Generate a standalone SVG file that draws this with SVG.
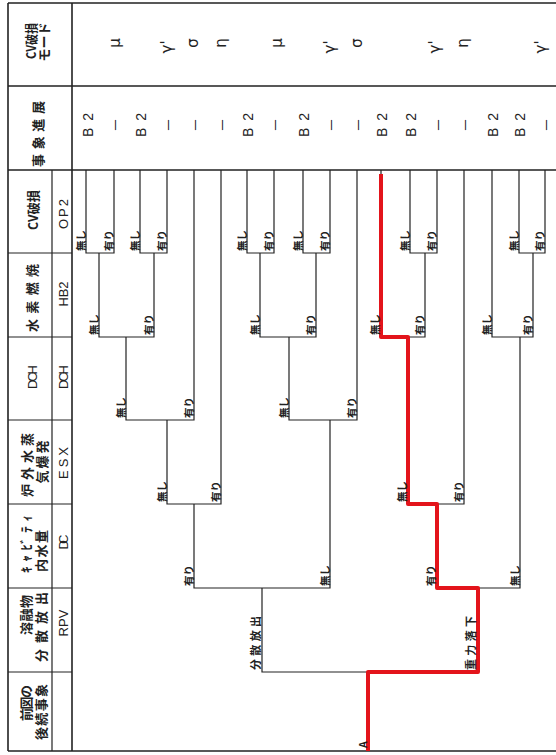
<svg xmlns="http://www.w3.org/2000/svg" width="556" height="755" viewBox="0 0 556 755">
<style>
.bd{stroke:#222;stroke-width:1.6;fill:none}
.ln{stroke:#222;stroke-width:1.2;fill:none}
.red{stroke:#e3141b;stroke-width:4;fill:none;stroke-linejoin:round}
.t{font-family:"Noto Sans CJK JP","Liberation Sans",sans-serif;fill:#222;text-anchor:middle;dominant-baseline:central}
.hd{font-size:13px;font-weight:bold}
.cd{font-family:"Liberation Sans","Noto Sans CJK JP",sans-serif;font-size:13px}
.oc{font-size:14px;font-family:"Liberation Sans","Noto Sans CJK JP",sans-serif}
.md{font-size:15px;font-family:"DejaVu Sans","Noto Sans CJK JP",sans-serif}
.br{font-family:"Noto Sans CJK JP","Liberation Sans",sans-serif;fill:#222;font-size:10.5px;font-weight:bold;text-anchor:start;dominant-baseline:central}
</style>
<rect width="556" height="755" fill="#fff"/>
<g id="table">
<path class="bd" d="M8,3H556M8,751H556M8,3V751M72,3V751M8,86H556M8,170H556"/>
<path class="ln" d="M52,170V751M8,253H72M8,337H72M8,420H72M8,504H72M8,588H72M8,672H72"/>
</g>
<g id="header">
<g id="h-mode"><text class="t hd" transform="translate(30,41) rotate(-90)" textLength="36" lengthAdjust="spacingAndGlyphs">CV破損</text><text class="t hd" transform="translate(43,42) rotate(-90)">モード</text></g>
<g id="h-prog"><text class="t hd" transform="translate(37,134) rotate(-90)" textLength="66">事象進展</text></g>
<g id="h-op2"><text class="t hd" transform="translate(32,210) rotate(-90)" textLength="40" lengthAdjust="spacingAndGlyphs">CV破損</text><text class="t cd" transform="translate(63,214) rotate(-90)" textLength="30">OP2</text></g>
<g id="h-hb2"><text class="t hd" transform="translate(31,298) rotate(-90)" textLength="68">水素燃焼</text><text class="t cd" transform="translate(63,294) rotate(-90)" textLength="25">HB2</text></g>
<g id="h-dch"><text class="t cd" transform="translate(32,377) rotate(-90)" textLength="24">DCH</text><text class="t cd" transform="translate(63,377) rotate(-90)" textLength="24">DCH</text></g>
<g id="h-esx"><text class="t hd" transform="translate(26,465) rotate(-90)" textLength="64">炉外水蒸</text><text class="t hd" transform="translate(41,462) rotate(-90)" textLength="43">気爆発</text><text class="t cd" transform="translate(63,463) rotate(-90)" textLength="32">ESX</text></g>
<g id="h-dc"><text class="t hd" transform="translate(25,544) rotate(-90)" textLength="58">ｷｬﾋﾞﾃｨ</text><text class="t hd" transform="translate(40,551) rotate(-90)" textLength="42">内水量</text><text class="t cd" transform="translate(63,542) rotate(-90)" textLength="15">DC</text></g>
<g id="h-rpv"><text class="t hd" transform="translate(25,615) rotate(-90)" textLength="40">溶融物</text><text class="t hd" transform="translate(40,627) rotate(-90)" textLength="70">分散放出</text><text class="t cd" transform="translate(63,623) rotate(-90)" textLength="27">RPV</text></g>
<g id="h-prev"><text class="t hd" transform="translate(25,703) rotate(-90)" textLength="36">前図の</text><text class="t hd" transform="translate(40,712) rotate(-90)" textLength="56">後続事象</text></g>
</g>
<g id="connectors">
<path class="ln" d="M368,751V672M262,588V672H478V588M194,504V588H330V420M437,504V588H520V337M167,420V504H221V170M408,337V504H464V170M126,337V420H194V170M289,337V420H357V170M99,253V337H154V253M260,253V337H316V253M381,170V337H425V253M492,170V337H533V253M86,170V253H114V170M140,170V253H167V170M247,170V253H274V170M303,170V253H330V170M410,170V253H437V170M519,170V253H545V170"/>
<path class="red" d="M368,751V672H478V588H437V504H408V337H381V174"/>
</g>
<g id="branch-labels">
<text class="br" transform="translate(80,251) rotate(-90)">無し</text>
<text class="br" transform="translate(108,251) rotate(-90)">有り</text>
<text class="br" transform="translate(134,251) rotate(-90)">無し</text>
<text class="br" transform="translate(161,251) rotate(-90)">有り</text>
<text class="br" transform="translate(241,251) rotate(-90)">無し</text>
<text class="br" transform="translate(268,251) rotate(-90)">有り</text>
<text class="br" transform="translate(297,251) rotate(-90)">無し</text>
<text class="br" transform="translate(324,251) rotate(-90)">有り</text>
<text class="br" transform="translate(404,251) rotate(-90)">無し</text>
<text class="br" transform="translate(431,251) rotate(-90)">有り</text>
<text class="br" transform="translate(513,251) rotate(-90)">無し</text>
<text class="br" transform="translate(539,251) rotate(-90)">有り</text>
<text class="br" transform="translate(93,335) rotate(-90)">無し</text>
<text class="br" transform="translate(148,335) rotate(-90)">有り</text>
<text class="br" transform="translate(254,335) rotate(-90)">無し</text>
<text class="br" transform="translate(310,335) rotate(-90)">有り</text>
<text class="br" transform="translate(374,335) rotate(-90)">無し</text>
<text class="br" transform="translate(419,335) rotate(-90)">有り</text>
<text class="br" transform="translate(486,335) rotate(-90)">無し</text>
<text class="br" transform="translate(527,335) rotate(-90)">有り</text>
<text class="br" transform="translate(120,418) rotate(-90)">無し</text>
<text class="br" transform="translate(188,418) rotate(-90)">有り</text>
<text class="br" transform="translate(283,418) rotate(-90)">無し</text>
<text class="br" transform="translate(351,418) rotate(-90)">有り</text>
<text class="br" transform="translate(161,502) rotate(-90)">無し</text>
<text class="br" transform="translate(215,502) rotate(-90)">有り</text>
<text class="br" transform="translate(401,502) rotate(-90)">無し</text>
<text class="br" transform="translate(458,502) rotate(-90)">有り</text>
<text class="br" transform="translate(188,586) rotate(-90)">有り</text>
<text class="br" transform="translate(324,586) rotate(-90)">無し</text>
<text class="br" transform="translate(430,586) rotate(-90)">有り</text>
<text class="br" transform="translate(514,586) rotate(-90)">無し</text>
<text class="br" style="font-size:11px" transform="translate(255,670) rotate(-90)" textLength="54">分散放出</text>
<text class="br" style="font-size:11px" transform="translate(470,670) rotate(-90)" textLength="54">重力落下</text>
<text class="br" transform="translate(362,748) rotate(-90)">A</text>
</g>
<g id="outcomes">
<text class="t oc" transform="translate(88,125) rotate(-90)" textLength="24">B2</text>
<text class="t oc" transform="translate(115,125) rotate(-90)">－</text>
<text class="t oc" transform="translate(141,125) rotate(-90)" textLength="24">B2</text>
<text class="t oc" transform="translate(168,125) rotate(-90)">－</text>
<text class="t oc" transform="translate(195,125) rotate(-90)">－</text>
<text class="t oc" transform="translate(222,125) rotate(-90)">－</text>
<text class="t oc" transform="translate(248,125) rotate(-90)" textLength="24">B2</text>
<text class="t oc" transform="translate(275,125) rotate(-90)">－</text>
<text class="t oc" transform="translate(304,125) rotate(-90)" textLength="24">B2</text>
<text class="t oc" transform="translate(331,125) rotate(-90)">－</text>
<text class="t oc" transform="translate(358,125) rotate(-90)">－</text>
<text class="t oc" transform="translate(382,125) rotate(-90)" textLength="24">B2</text>
<text class="t oc" transform="translate(411,125) rotate(-90)" textLength="24">B2</text>
<text class="t oc" transform="translate(438,125) rotate(-90)">－</text>
<text class="t oc" transform="translate(465,125) rotate(-90)">－</text>
<text class="t oc" transform="translate(493,125) rotate(-90)" textLength="24">B2</text>
<text class="t oc" transform="translate(520,125) rotate(-90)" textLength="24">B2</text>
<text class="t oc" transform="translate(546,125) rotate(-90)">－</text>
</g>
<g id="modes">
<text class="t md" transform="translate(115,43) rotate(-90)">μ</text>
<text class="t md" transform="translate(167,47) rotate(-90)">γ'</text>
<text class="t md" transform="translate(193,43) rotate(-90)">σ</text>
<text class="t md" transform="translate(221,43) rotate(-90)">η</text>
<text class="t md" transform="translate(277,43) rotate(-90)">μ</text>
<text class="t md" transform="translate(330,47) rotate(-90)">γ'</text>
<text class="t md" transform="translate(357,43) rotate(-90)">σ</text>
<text class="t md" transform="translate(435,47) rotate(-90)">γ'</text>
<text class="t md" transform="translate(463,43) rotate(-90)">η</text>
<text class="t md" transform="translate(541,47) rotate(-90)">γ'</text>
</g>
</svg>
